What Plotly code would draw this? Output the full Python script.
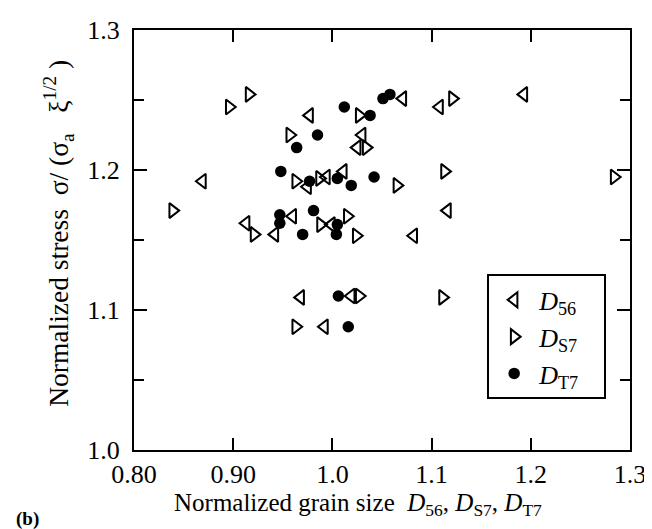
import plotly.graph_objects as go

# D56 (left-pointing open triangles)
d56_x = [1.193, 1.071, 1.108, 0.977, 1.030, 1.025, 0.869, 0.975, 0.994, 1.011,
         1.116, 0.960, 0.913, 0.999, 0.942, 1.082, 0.968, 1.019, 0.992]
d56_y = [1.254, 1.251, 1.245, 1.239, 1.225, 1.216, 1.192, 1.188, 1.195, 1.199,
         1.171, 1.167, 1.162, 1.161, 1.154, 1.153, 1.109, 1.110, 1.088]

# DS7 (right-pointing open triangles)
ds7_x = [0.916, 1.121, 0.896, 1.027, 0.957, 1.034, 0.963, 0.987, 1.113, 1.065,
         1.284, 0.839, 0.988, 1.015, 0.921, 1.024, 1.027, 1.111, 0.963]
ds7_y = [1.254, 1.251, 1.245, 1.239, 1.225, 1.216, 1.192, 1.194, 1.199, 1.189,
         1.195, 1.171, 1.161, 1.167, 1.154, 1.153, 1.110, 1.109, 1.088]

# DT7 (filled circles)
dt7_x = [1.058, 1.051, 1.012, 1.038, 0.985, 0.964, 0.948, 0.977, 1.005, 1.019,
         1.042, 0.947, 0.947, 0.981, 1.005, 0.970, 1.004, 1.006, 1.016]
dt7_y = [1.254, 1.251, 1.245, 1.239, 1.225, 1.216, 1.199, 1.192, 1.194, 1.189,
         1.195, 1.168, 1.162, 1.171, 1.161, 1.154, 1.154, 1.110, 1.088]

x_tickvals = [0.8, 0.9, 1.0, 1.1, 1.2, 1.3]
x_ticktext = ["0.80", "0.90", "1.0", "1.1", "1.2", "1.3"]
y_tickvals = [1.0, 1.1, 1.2, 1.3]
y_ticktext = ["1.0", "1.1", "1.2", "1.3"]

FONT = "Liberation Serif"
NB = "\u00a0"

fig = go.Figure()
fig.add_trace(go.Scatter(
    x=d56_x, y=d56_y, mode="markers", name="<i>D</i><sub>56</sub>" + NB * 3,
    marker=dict(symbol="triangle-left-open", size=13, color="black",
                line=dict(width=2, color="black"))))
fig.add_trace(go.Scatter(
    x=ds7_x, y=ds7_y, mode="markers", name="<i>D</i><sub>S7</sub>" + NB * 3,
    marker=dict(symbol="triangle-right-open", size=13, color="black",
                line=dict(width=2, color="black"))))
fig.add_trace(go.Scatter(
    x=dt7_x, y=dt7_y, mode="markers", name="<i>D</i><sub>T7</sub>" + NB * 3,
    marker=dict(symbol="circle", size=11.5, color="black",
                line=dict(width=0))))

fig.update_layout(
    width=652, height=529,
    margin=dict(l=126, r=30, t=22, b=87),
    paper_bgcolor="white", plot_bgcolor="white",
    font=dict(family=FONT, color="black", size=22),
    showlegend=True,
    legend=dict(x=0.712, y=0.418, xanchor="left", yanchor="top",
                bordercolor="black", borderwidth=2, bgcolor="white",
                font=dict(family=FONT, size=26), tracegroupgap=0,
                itemwidth=40),
)
fig.update_xaxes(
    range=[0.8, 1.3], tickvals=x_tickvals, ticktext=x_ticktext,
    ticks="inside", ticklen=12, tickwidth=1.5, tickcolor="black",
    showline=True, linecolor="black", linewidth=2, mirror="ticks",
    showgrid=False, zeroline=False, automargin=False,
    tickfont=dict(family=FONT, size=26),
)
fig.update_yaxes(
    range=[1.0, 1.3], tickvals=y_tickvals, ticktext=y_ticktext,
    ticks="inside", ticklen=13, tickwidth=1.5, tickcolor="black",
    minor=dict(dtick=0.05, tick0=1.0, ticks="inside", ticklen=10,
               tickwidth=1.5, tickcolor="black", showgrid=False),
    showline=True, linecolor="black", linewidth=2, mirror="ticks",
    showgrid=False, zeroline=False, automargin=False,
    ticklabelstandoff=7,
    tickfont=dict(family=FONT, size=26),
)
# axis titles
fig.add_annotation(
    text="Normalized grain size" + NB * 2 + "<i>D</i><sub>56</sub>, <i>D</i><sub>S7</sub>, <i>D</i><sub>T7</sub>",
    xref="paper", yref="paper", x=0.452, y=-0.13, xanchor="center", yanchor="middle",
    showarrow=False, font=dict(family=FONT, size=25))
fig.add_annotation(
    text="Normalized stress" + NB * 2 + "σ/" + NB + "(σ<sub>a</sub>" + NB * 3 + "ξ<sup>1/2</sup>" + NB + ")",
    xref="paper", yref="paper", x=-0.153, y=0.515, xanchor="center", yanchor="middle",
    textangle=-90, showarrow=False, font=dict(family=FONT, size=27.5))
fig.add_annotation(text="<b>(b)</b>", xref="paper", yref="paper",
                   x=-0.242, y=-0.164, xanchor="left", yanchor="middle",
                   showarrow=False, font=dict(family=FONT, size=19))

fig.write_html("out.html")
